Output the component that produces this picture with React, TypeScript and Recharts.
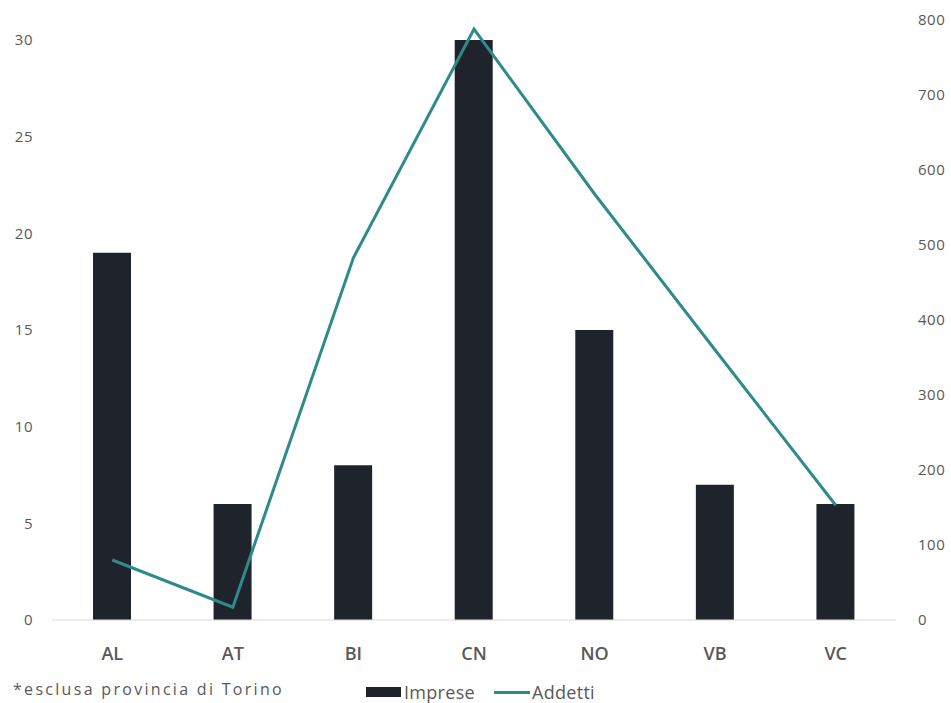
import {
  ComposedChart,
  Bar,
  Line,
  XAxis,
  YAxis,
} from "recharts";

const province = ["AL", "AT", "BI", "CN", "NO", "VB", "VC"];
const imprese = [19, 6, 8, 30, 15, 7, 6];
const addetti = [80, 17, 483, 788, 568, 360, 153];
const leftTicks = [0, 5, 10, 15, 20, 25, 30];
const rightTicks = [0, 100, 200, 300, 400, 500, 600, 700, 800];

const BAR = "#1f232b";
const LINE = "#2f8a8c";
const TEXT = "#595959";
const FONT = "'Open Sans', 'Noto Sans', sans-serif";

export default function App() {
  const data = province.map((p, i) => ({
    prov: p,
    imprese: imprese[i],
    addetti: addetti[i],
  }));

  return (
    <div
      style={{
        position: "absolute",
        left: 0,
        top: 0,
        width: 951,
        height: 703,
        background: "#fff",
        fontFamily: FONT,
      }}
    >
      <ComposedChart
        width={951}
        height={703}
        data={data}
        margin={{ top: 5, right: 0, bottom: 43, left: 0 }}
      >
        <XAxis
          dataKey="prov"
          height={40}
          axisLine={{ stroke: "#d9d9d9" }}
          tickLine={false}
          tickMargin={21}
          tick={{ fontSize: 18, fontWeight: 600, fill: TEXT, fontFamily: FONT }}
        />
        <YAxis
          yAxisId="left"
          width={52}
          domain={[0, 31.81]}
          ticks={leftTicks}
          axisLine={false}
          tickLine={false}
          tickMargin={13}
          tick={{ fontSize: 15, fill: TEXT, fontFamily: FONT, letterSpacing: 0.5 }}
        />
        <YAxis
          yAxisId="right"
          orientation="right"
          width={55}
          domain={[0, 820]}
          ticks={rightTicks}
          axisLine={false}
          tickLine={false}
          tickMargin={16}
          tick={{ fontSize: 15, fill: TEXT, fontFamily: FONT, textAnchor: "start", letterSpacing: 0.5 }}
        />
        <Bar
          yAxisId="left"
          dataKey="imprese"
          fill={BAR}
          barSize={38}
          isAnimationActive={false}
        />
        <Line
          yAxisId="right"
          dataKey="addetti"
          type="linear"
          stroke={LINE}
          strokeWidth={3}
          dot={false}
          isAnimationActive={false}
        />
      </ComposedChart>

      <div
        style={{
          position: "absolute",
          left: 13,
          top: 678,
          fontSize: 16,
          letterSpacing: 2.3,
          color: TEXT,
          whiteSpace: "nowrap",
        }}
      >
        *esclusa provincia di Torino
      </div>

      <div
        style={{
          position: "absolute",
          left: 366,
          top: 680,
          display: "flex",
          alignItems: "center",
          fontSize: 18,
          letterSpacing: 0.3,
          color: TEXT,
          whiteSpace: "nowrap",
        }}
      >
        <span style={{ display: "inline-block", width: 35, height: 10, background: BAR, marginRight: 3 }} />
        <span>Imprese</span>
        <span style={{ display: "inline-block", width: 36, height: 3, background: LINE, marginLeft: 19, marginRight: 2 }} />
        <span>Addetti</span>
      </div>
    </div>
  );
}
